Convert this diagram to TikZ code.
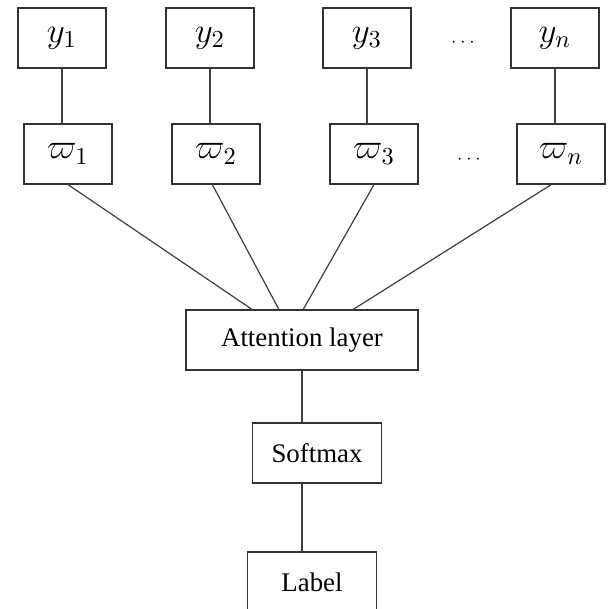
\documentclass[tikz,border=0pt]{standalone}
\usepackage{fontspec}
\setmainfont{Liberation Serif}
\usetikzlibrary{positioning}

\tikzset{
	box/.style={draw=black!80, line width=0.6pt, minimum width=36pt, minimum height=24.5pt, inner sep=0pt, font=\Large},
	wide/.style={box, font=\fontsize{11}{13}\selectfont},
	link/.style={draw=black!75, line width=0.5pt}
}

\begin{document}
\begin{tikzpicture}[x=0.41pt, y=-0.41pt]
	\clip (0,0) rectangle (608,609);
	\useasboundingbox (0,0) rectangle (608,609);
	% top row
	\node[box] (y1) at (62,38) {$y_1$};
	\node[box] (y2) at (210,38) {$y_2$};
	\node[box] (y3) at (367,38) {$y_3$};
	\node[box] (yn) at (555,38) {$y_n$};
	\node (d1) at (463,43) {\scriptsize$\cdots$};
	% weights
	\node[box] (w1) at (68,154) {$\varpi_1$};
	\node[box] (w2) at (216,154) {$\varpi_2$};
	\node[box] (w3) at (374,154) {$\varpi_3$};
	\node[box] (wn) at (561,154) {$\varpi_n$};
	\node (d2) at (469,160) {\scriptsize$\cdots$};
	% lower part
	\node[wide, minimum width=95pt] (att) at (302,340) {Attention layer};
	\node[wide, minimum width=53pt] (sm) at (317,453) {Softmax};
	\node[wide, minimum width=53pt] (lab) at (312,582) {Label};

	\foreach \a/\b in {y1/w1, y2/w2, y3/w3, yn/wn}
		\draw[link] (\a.south) -- (\a.south |- \b.north);
	\draw[link] (w1.south) -- ([xshift=-20.5pt]att.north);
	\draw[link] ([xshift=-1.5pt]w2.south) -- ([xshift=-9.5pt]att.north);
	\draw[link] (w3.south) -- ([xshift=0.5pt]att.north);
	\draw[link] ([xshift=-4pt]wn.south) -- ([xshift=21pt]att.north);
	\draw[link] (att.south) -- (att.south |- sm.north);
	\draw[link] (att.south |- sm.south) -- (att.south |- lab.north);
\end{tikzpicture}
\end{document}
